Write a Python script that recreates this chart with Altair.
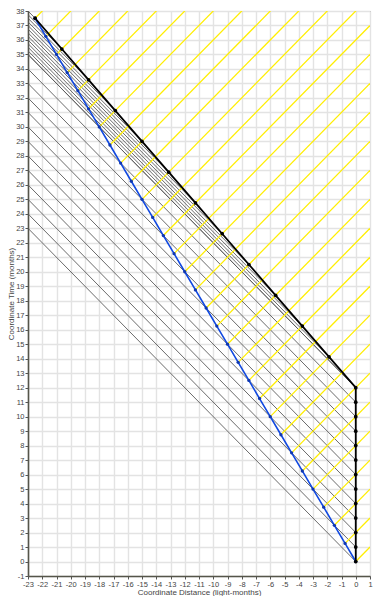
import altair as alt
import pandas as pd

# ---- data ----
x_min, x_max = -23, 1
y_min, y_max = -1, 38
x_ticks = list(range(-23, 2))
y_ticks = list(range(-1, 39))

# Earth (stays at x = 0), one dot per month
earth_t = [0, 1, 2, 3, 4, 5, 6, 7, 8, 9, 10, 11, 12]
earth_x = [0, 0, 0, 0, 0, 0, 0, 0, 0, 0, 0, 0, 0]

# Blue ship (0.6c), one dot per proper month
blue_t = [0, 1.25, 2.5, 3.75, 5, 6.25, 7.5, 8.75, 10, 11.25, 12.5, 13.75, 15,
          16.25, 17.5, 18.75, 20, 21.25, 22.5, 23.75, 25, 26.25, 27.5, 28.75,
          30, 31.25, 32.5, 33.75, 35, 36.25, 37.5]
blue_x = [0, -0.75, -1.5, -2.25, -3, -3.75, -4.5, -5.25, -6, -6.75, -7.5, -8.25,
          -9, -9.75, -10.5, -11.25, -12, -12.75, -13.5, -14.25, -15, -15.75,
          -16.5, -17.25, -18, -18.75, -19.5, -20.25, -21, -21.75, -22.5]

# Black ship (leaves at t = 12), one dot per proper month
black_t = [12, 14.125, 16.25, 18.375, 20.5, 22.625, 24.75, 26.875, 29, 31.125,
           33.25, 35.375, 37.5]
black_x = [0, -1.875, -3.75, -5.625, -7.5, -9.375, -11.25, -13.125, -15,
           -16.875, -18.75, -20.625, -22.5]

# ---- build tables ----
def ray_rows(xs, ts, direction, group):
    rows = []
    for i, (x0, t0) in enumerate(zip(xs, ts)):
        if direction == "left":
            x1 = x_min
            t1 = t0 + (x0 - x_min)
        else:
            x1 = x_max
            t1 = t0 + (x_max - x0)
        rows.append({"seg": f"{group}{i}", "o": 0, "x": x0, "t": t0})
        rows.append({"seg": f"{group}{i}", "o": 1, "x": x1, "t": t1})
    return rows

gray_df = pd.DataFrame(ray_rows(earth_x, earth_t, "left", "e") +
                       ray_rows(black_x, black_t, "left", "b"))
yellow_df = pd.DataFrame(ray_rows(blue_x, blue_t, "right", "y"))

blue_df = pd.DataFrame({"x": blue_x, "t": blue_t, "o": list(range(len(blue_t)))})
black_path = pd.DataFrame({
    "x": earth_x + black_x[1:],
    "t": earth_t + black_t[1:],
    "o": list(range(len(earth_t) + len(black_t) - 1)),
})
black_pts = pd.DataFrame({"x": earth_x + black_x[1:], "t": earth_t + black_t[1:]})

xs = alt.Scale(domain=[x_min, x_max], nice=False, zero=False)
ys = alt.Scale(domain=[y_min, y_max], nice=False, zero=False)

x_axis = alt.Axis(values=x_ticks, title="Coordinate Distance (light-months)",
                  labelOverlap=False, labelFlush=False,
                  labelExpr="'' + datum.value")
y_axis = alt.Axis(values=y_ticks, title="Coordinate Time (months)",
                  labelOverlap=False, labelFlush=False, titleX=-12.5,
                  labelExpr="'' + datum.value")

X = alt.X("x:Q", scale=xs, axis=x_axis)
Y = alt.Y("t:Q", scale=ys, axis=y_axis)

gray = alt.Chart(gray_df).mark_line(color="#5a5a5a", strokeWidth=0.9, clip=True).encode(
    x=X, y=Y, detail="seg:N", order="o:Q")

yellow = alt.Chart(yellow_df).mark_line(color="#ffee00", strokeWidth=1.25, clip=True).encode(
    x=X, y=Y, detail="seg:N", order="o:Q")

blue_line = alt.Chart(blue_df).mark_line(color="#1048e0", strokeWidth=1.6).encode(
    x=X, y=Y, order="o:Q")
blue_dots = alt.Chart(blue_df).mark_circle(color="#1038b0", size=11, opacity=1).encode(
    x=X, y=Y)

black_line = alt.Chart(black_path).mark_line(color="#000000", strokeWidth=1.8).encode(
    x=X, y=Y, order="o:Q")
black_dots = alt.Chart(black_pts).mark_circle(color="#000000", size=14, opacity=1).encode(
    x=X, y=Y)

chart = alt.layer(gray, yellow, blue_line, black_line, blue_dots, black_dots).properties(
    width=342, height=565,
    padding={"left": 20, "top": 3, "right": 3, "bottom": 20},
    autosize=alt.AutoSizeParams(type="none"),
).configure_view(
    stroke="#6a6a6a", strokeWidth=1
).configure_axis(
    grid=True, gridColor="#e3e3e3", gridWidth=1.4,
    domainColor="#55554a", domainWidth=1.6,
    tickColor="#555555", tickSize=3, tickWidth=1,
    labelFont="Liberation Sans", labelFontSize=7.5, labelColor="#444444", labelPadding=1,
    titleFont="Liberation Sans", titleFontSize=8, titleColor="#444444",
    titleFontWeight="normal", titlePadding=1,
)

chart.save("out.html", embed_options={"renderer": "svg", "actions": False})
